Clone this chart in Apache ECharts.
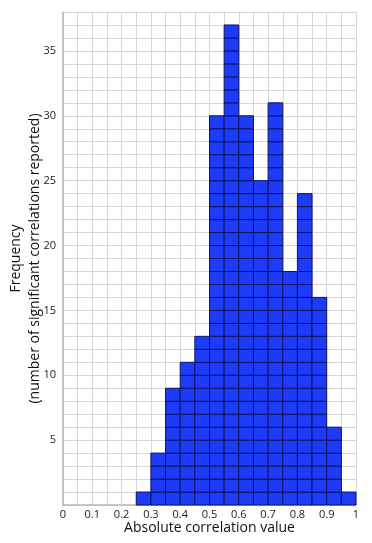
<!DOCTYPE html>
<html>
<head>
<meta charset="utf-8">
<style>html,body{margin:0;padding:0;background:#fff}#c{width:372px;height:543px}</style>
<script src="https://cdn.jsdelivr.net/npm/echarts@6/dist/echarts.min.js"></script>
</head>
<body>
<div id="c"></div>
<script>
// Histogram bins (width 0.05) and counts
var binStarts = [0, 0.05, 0.1, 0.15, 0.2, 0.25, 0.3, 0.35, 0.4, 0.45, 0.5, 0.55, 0.6, 0.65, 0.7, 0.75, 0.8, 0.85, 0.9, 0.95];
var binWidth = 0.05;
var counts = [0, 0, 0, 0, 0, 1, 4, 9, 11, 13, 30, 37, 30, 25, 31, 18, 24, 16, 6, 1];
var xTickLabels = ['0', '0.1', '0.2', '0.3', '0.4', '0.5', '0.6', '0.7', '0.8', '0.9', '1'];
var yTickLabels = [5, 10, 15, 20, 25, 30, 35];

var data = binStarts.map(function (s, i) { return [s, s + binWidth, counts[i]]; });

var chart = echarts.init(document.getElementById('c'), null, {renderer: 'canvas'});
var font = '"Open Sans", "Noto Sans", sans-serif';
chart.setOption({
  animation: false,
  grid: {left: 63, right: 16, top: 12, bottom: 38, containLabel: false, outerBoundsMode: 'none'},
  xAxis: {
    type: 'value', min: 0, max: 1, interval: 0.05,
    name: 'Absolute correlation value', nameLocation: 'middle', nameGap: 16,
    nameMoveOverlap: false,
    nameTextStyle: {fontFamily: font, fontSize: 14, color: '#111'},
    axisLine: {show: true, lineStyle: {color: '#b8b8b8', width: 1.5}},
    axisTick: {show: false},
    axisLabel: {
      fontFamily: font, fontSize: 11, color: '#222', margin: 4,
      formatter: function (v) {
        var k = Math.round(v * 100);
        if (k % 10 !== 0) return '';
        var s = String(k / 100);
        return xTickLabels.indexOf(s) >= 0 ? s : '';
      }
    },
    splitLine: {show: true, lineStyle: {color: '#d6d6d6', width: 1}}
  },
  yAxis: {
    type: 'value', min: 0, max: 38, interval: 1,
    name: 'Frequency\n(number of significant correlations reported)',
    nameLocation: 'middle', nameRotate: 90, nameGap: 18,
    nameMoveOverlap: false,
    nameTextStyle: {fontFamily: font, fontSize: 14, color: '#111', lineHeight: 19},
    axisLine: {show: true, lineStyle: {color: '#b8b8b8', width: 1.5}},
    axisTick: {show: false},
    axisLabel: {
      fontFamily: font, fontSize: 11, color: '#222', margin: 7,
      formatter: function (v) { return yTickLabels.indexOf(v) >= 0 ? String(v) : ''; }
    },
    splitLine: {show: true, lineStyle: {color: '#d6d6d6', width: 1}}
  },
  series: [{
    type: 'custom',
    data: data,
    encode: {x: [0, 1], y: 2},
    renderItem: function (params, api) {
      var x0 = api.value(0), x1 = api.value(1), n = api.value(2);
      var children = [];
      for (var k = 0; k < n; k++) {
        var p0 = api.coord([x0, k]);
        var p1 = api.coord([x1, k + 1]);
        children.push({
          type: 'rect',
          shape: {x: p0[0], y: p1[1], width: p1[0] - p0[0], height: p0[1] - p1[1]},
          style: {fill: '#1f3bfa', stroke: '#0b1560', lineWidth: 1}
        });
      }
      return {type: 'group', children: children};
    }
  }]
});
</script>
</body>
</html>
